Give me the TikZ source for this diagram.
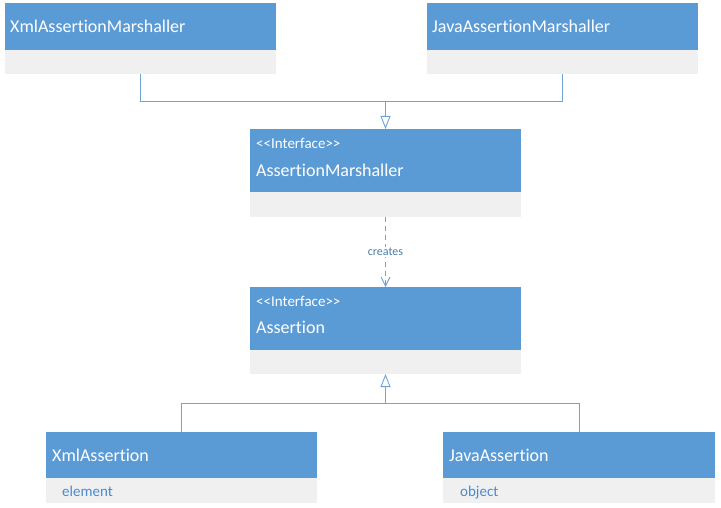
\documentclass[tikz,border=0pt]{standalone}
\usepackage{fontspec}
\setmainfont[Ligatures=NoCommon]{Carlito}
\usetikzlibrary{arrows.meta,positioning}
\definecolor{hdr}{HTML}{5B9BD5}
\definecolor{bdy}{HTML}{F0F0F0}
\definecolor{lnk}{HTML}{6FA3DA}
\definecolor{attr}{HTML}{4A8AD0}
\newcommand{\stereo}[1]{{<}{<}#1{>}{>}}
\tikzset{
  hdrbox/.style={fill=hdr, draw=none, anchor=north west, inner sep=0pt, outer sep=0pt},
  bdybox/.style={fill=bdy, draw=none, anchor=north west, inner sep=0pt, outer sep=0pt},
  nametxt/.style={text=white, anchor=west, inner sep=0pt, font=\fontsize{18}{21}\selectfont},
  stereotxt/.style={text=white, anchor=west, inner sep=0pt, font=\fontsize{15}{18}\selectfont},
  attrtxt/.style={text=attr, anchor=base west, inner sep=0pt, font=\fontsize{15}{18}\selectfont},
  link/.style={draw=lnk, line width=0.9pt},
  inherit/.style={link, -{Triangle[open, length=13pt, width=10pt, fill=white]}},
  depend/.style={link, dashed, dash pattern=on 5pt off 4pt, -{Straight Barb[length=9pt, width=9pt]}},
}
\begin{document}
\begin{tikzpicture}[x=1pt,y=-1pt]
\useasboundingbox (0,0) rectangle (721,508);
% XmlAssertionMarshaller
\node[hdrbox, minimum width=271pt, minimum height=47pt] (xmh) at (5,3) {};
\node[bdybox, minimum width=271pt, minimum height=24pt] (xmb) at (5,50) {};
\node[nametxt] (xmt) at (10,26) {XmlAssertionMarshaller};
% JavaAssertionMarshaller
\node[hdrbox, minimum width=271pt, minimum height=47pt] (jmh) at (427,3) {};
\node[bdybox, minimum width=271pt, minimum height=24pt] (jmb) at (427,50) {};
\node[nametxt] (jmt) at (432,26) {JavaAssertionMarshaller};
% AssertionMarshaller
\node[hdrbox, minimum width=271pt, minimum height=63pt] (amh) at (250,129) {};
\node[bdybox, minimum width=271pt, minimum height=25pt] (amb) at (250,192) {};
\node[stereotxt] (ams) at (256,143) {\stereo{Interface}};
\node[nametxt] (amt) at (256,170) {AssertionMarshaller};
% Assertion
\node[hdrbox, minimum width=271pt, minimum height=63pt] (ash) at (250,287) {};
\node[bdybox, minimum width=271pt, minimum height=24pt] (asb) at (250,350) {};
\node[stereotxt] (ass) at (256,301) {\stereo{Interface}};
\node[nametxt] (ast) at (256,327) {Assertion};
% XmlAssertion
\node[hdrbox, minimum width=271pt, minimum height=46pt] (xah) at (46,432) {};
\node[bdybox, minimum width=271pt, minimum height=25pt] (xab) at (46,478) {};
\node[nametxt] (xat) at (52,455) {XmlAssertion};
\node[attrtxt] (xaa) at (62,496) {element};
% JavaAssertion
\node[hdrbox, minimum width=272pt, minimum height=46pt] (jah) at (443,432) {};
\node[bdybox, minimum width=272pt, minimum height=25pt] (jab) at (443,478) {};
\node[nametxt] (jat) at (449,455) {JavaAssertion};
\node[attrtxt] (jaa) at (460,496) {object};
% connectors
\coordinate (j1) at (385.5,101);
\coordinate (j2) at (385.5,403);
\draw[link] (xmb.south) |- (j1);
\draw[link] (jmb.south) |- (j1);
\draw[inherit] (j1) -- (amh.north);
\draw[depend] (amb.south) -- node[fill=white, inner sep=1pt, text=hdr!80!black, font=\fontsize{12}{14}\selectfont] (cr) {creates} (ash.north);
\draw[link] (xah.north) |- (j2);
\draw[link] (jah.north) |- (j2);
\draw[inherit] (j2) -- (asb.south);
\end{tikzpicture}
\end{document}
